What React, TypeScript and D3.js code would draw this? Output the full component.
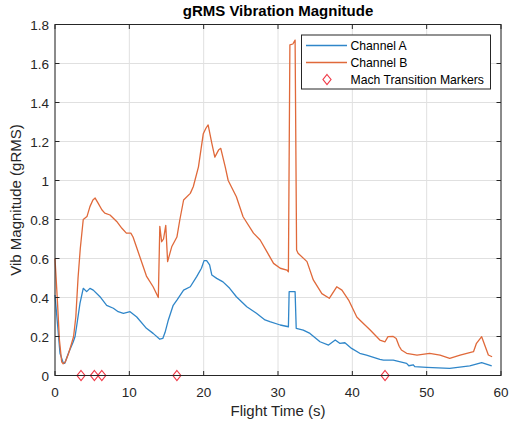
import React from "react";
import * as d3 from "d3";

const timeB = [0, 0.3, 0.6, 0.9, 1.1, 1.4, 1.8, 2.2, 2.5, 2.8, 3.1, 3.4, 3.8, 4.3, 4.7, 5.1, 5.4, 5.8, 6.3, 6.7, 7.4, 8.3, 9.0, 9.6, 10.2, 10.5, 11.4, 12.3, 13.2, 13.9, 14.1, 14.35, 14.6, 14.9, 15.15, 15.7, 16.4, 16.8, 17.3, 18.2, 18.6, 19.3, 19.95, 20.3, 20.6, 21.1, 21.5, 22.0, 22.3, 22.9, 23.3, 24.4, 25.3, 26.7, 27.6, 28.5, 29.4, 30.3, 31.2, 31.4, 31.6, 32.0, 32.3, 32.5, 32.7, 33.9, 34.75, 35.9, 36.9, 37.9, 38.6, 39.5, 40.6, 41.0, 42.4, 43.7, 44.4, 44.8, 45.5, 45.9, 46.3, 46.6, 47.3, 48.7, 50.4, 51.8, 53.1, 54.5, 56.3, 56.7, 57.4, 58.3, 58.8];
const channelB = [0.60, 0.40, 0.18, 0.07, 0.06, 0.07, 0.11, 0.16, 0.20, 0.30, 0.50, 0.65, 0.80, 0.815, 0.866, 0.90, 0.91, 0.884, 0.85, 0.833, 0.823, 0.79, 0.755, 0.73, 0.73, 0.71, 0.61, 0.51, 0.455, 0.40, 0.765, 0.686, 0.70, 0.77, 0.584, 0.66, 0.71, 0.80, 0.90, 0.934, 0.968, 1.07, 1.24, 1.268, 1.285, 1.19, 1.12, 1.156, 1.165, 1.07, 1.0, 0.917, 0.814, 0.73, 0.695, 0.635, 0.575, 0.55, 0.541, 0.532, 1.695, 1.70, 1.72, 0.644, 0.627, 0.584, 0.49, 0.42, 0.396, 0.455, 0.438, 0.387, 0.30, 0.285, 0.233, 0.182, 0.173, 0.199, 0.20, 0.19, 0.15, 0.131, 0.114, 0.105, 0.114, 0.105, 0.088, 0.105, 0.122, 0.165, 0.199, 0.105, 0.096];

const timeA = [0, 0.3, 0.67, 1.1, 1.3, 1.8, 2.46, 2.7, 2.9, 3.36, 3.8, 4.26, 4.7, 5.15, 6.05, 6.95, 7.85, 8.5, 9.2, 10.1, 11.0, 12.3, 13.2, 14.1, 14.5, 14.8, 15.25, 15.9, 16.4, 17.3, 18.2, 19.06, 19.7, 20.05, 20.4, 20.8, 21.1, 21.75, 22.6, 23.5, 24.4, 25.8, 27.1, 28.25, 28.9, 30.3, 31.4, 31.5, 32.3, 32.45, 33.4, 34.3, 35.65, 36.8, 37.7, 38.3, 39.0, 39.9, 41.0, 41.9, 43.7, 44.2, 45.5, 47.3, 47.6, 48.2, 48.4, 50.0, 53.1, 55.8, 57.4, 58.75];
const channelA = [0.413, 0.28, 0.114, 0.066, 0.062, 0.114, 0.173, 0.20, 0.25, 0.37, 0.447, 0.43, 0.447, 0.438, 0.404, 0.36, 0.345, 0.327, 0.319, 0.327, 0.30, 0.242, 0.216, 0.186, 0.19, 0.22, 0.285, 0.36, 0.387, 0.438, 0.455, 0.507, 0.55, 0.589, 0.589, 0.567, 0.515, 0.498, 0.48, 0.447, 0.404, 0.353, 0.319, 0.285, 0.276, 0.259, 0.25, 0.43, 0.43, 0.242, 0.233, 0.216, 0.173, 0.156, 0.182, 0.165, 0.168, 0.139, 0.114, 0.105, 0.083, 0.079, 0.079, 0.062, 0.05, 0.055, 0.045, 0.042, 0.037, 0.049, 0.066, 0.049];

const machTimes = [3.5, 5.3, 6.3, 16.4, 44.4];

const xTicks = [0, 10, 20, 30, 40, 50, 60];
const yTicks = [0, 0.2, 0.4, 0.6, 0.8, 1, 1.2, 1.4, 1.6, 1.8];

const seriesNames = ["Channel A", "Channel B", "Mach Transition Markers"];

const W = 509;
const H = 423;
const M = { left: 55, right: 501, top: 24.5, bottom: 375.5 };
const FONT = "'Liberation Sans', Arial, Helvetica, sans-serif";
const AX = "#262626";
const GRID = "#e0e0e0";
const BLUE = "#2f86c9";
const ORANGE = "#e0693a";
const RED = "#f03a48";

export default function App() {
  const x = d3.scaleLinear().domain([0, 60]).range([M.left, M.right]);
  const y = d3.scaleLinear().domain([0, 1.8]).range([M.bottom, M.top]);
  const line = d3
    .line<[number, number]>()
    .x((d) => x(d[0]))
    .y((d) => y(d[1]));
  const dataA: [number, number][] = timeA.map((t, i) => [t, channelA[i]]);
  const dataB: [number, number][] = timeB.map((t, i) => [t, channelB[i]]);
  const diamond = (cx: number, cy: number) =>
    `M${cx},${cy - 5} L${cx + 4},${cy} L${cx},${cy + 5} L${cx - 4},${cy} Z`;
  const tl = 4.5;
  const lg = { x0: 301.5, y0: 35, x1: 490.5, y1: 89 };
  const rows = [45.5, 62.5, 79.5];

  return (
    <svg
      width={W}
      height={H}
      style={{ position: "absolute", left: 0, top: 0, background: "#fff" }}
      fontFamily={FONT}
    >
      <rect x={0} y={0} width={W} height={H} fill="#fff" />
      {/* grid */}
      {xTicks.map((t) => (
        <line key={"gx" + t} x1={x(t)} x2={x(t)} y1={M.top} y2={M.bottom} stroke={GRID} strokeWidth={1} />
      ))}
      {yTicks.map((t) => (
        <line key={"gy" + t} x1={M.left} x2={M.right} y1={y(t)} y2={y(t)} stroke={GRID} strokeWidth={1} />
      ))}
      {/* data */}
      <path d={line(dataA) || ""} fill="none" stroke={BLUE} strokeWidth={1.3} strokeLinejoin="round" />
      <path d={line(dataB) || ""} fill="none" stroke={ORANGE} strokeWidth={1.3} strokeLinejoin="round" />
      {machTimes.map((t) => (
        <path key={"m" + t} d={diamond(x(t), y(0))} fill="none" stroke={RED} strokeWidth={1.2} />
      ))}
      {/* axes box */}
      <rect x={M.left} y={M.top} width={M.right - M.left} height={M.bottom - M.top} fill="none" stroke={AX} strokeWidth={1} />
      {xTicks.map((t) => (
        <g key={"tx" + t}>
          <line x1={x(t)} x2={x(t)} y1={M.bottom} y2={M.bottom - tl} stroke={AX} />
          <line x1={x(t)} x2={x(t)} y1={M.top} y2={M.top + tl} stroke={AX} />
          <text x={x(t)} y={397} textAnchor="middle" fontSize={13.5} fill={AX}>
            {t}
          </text>
        </g>
      ))}
      {yTicks.map((t) => (
        <g key={"ty" + t}>
          <line x1={M.left} x2={M.left + tl} y1={y(t)} y2={y(t)} stroke={AX} />
          <line x1={M.right} x2={M.right - tl} y1={y(t)} y2={y(t)} stroke={AX} />
          <text x={49} y={y(t) + 5} textAnchor="end" fontSize={13.5} fill={AX}>
            {String(t)}
          </text>
        </g>
      ))}
      {/* labels */}
      <text x={(M.left + M.right) / 2} y={16} textAnchor="middle" fontSize={15} fontWeight="bold" fill="#000">
        gRMS Vibration Magnitude
      </text>
      <text x={(M.left + M.right) / 2} y={416} textAnchor="middle" fontSize={15} fill={AX}>
        Flight Time (s)
      </text>
      <text
        transform={`translate(21,${(M.top + M.bottom) / 2}) rotate(-90)`}
        textAnchor="middle"
        fontSize={15}
        fill={AX}
      >
        Vib Magnitude (gRMS)
      </text>
      {/* legend */}
      <rect x={lg.x0} y={lg.y0} width={lg.x1 - lg.x0} height={lg.y1 - lg.y0} fill="#fff" stroke={AX} strokeWidth={1} />
      <line x1={306} x2={347} y1={rows[0]} y2={rows[0]} stroke={BLUE} strokeWidth={1.3} />
      <line x1={306} x2={347} y1={rows[1]} y2={rows[1]} stroke={ORANGE} strokeWidth={1.3} />
      <path d={diamond(327, rows[2])} fill="none" stroke={RED} strokeWidth={1.2} />
      {seriesNames.map((n, i) => (
        <text key={n} x={350.5} y={rows[i] + 4.3} fontSize={12.2} fill="#000">
          {n}
        </text>
      ))}
    </svg>
  );
}
